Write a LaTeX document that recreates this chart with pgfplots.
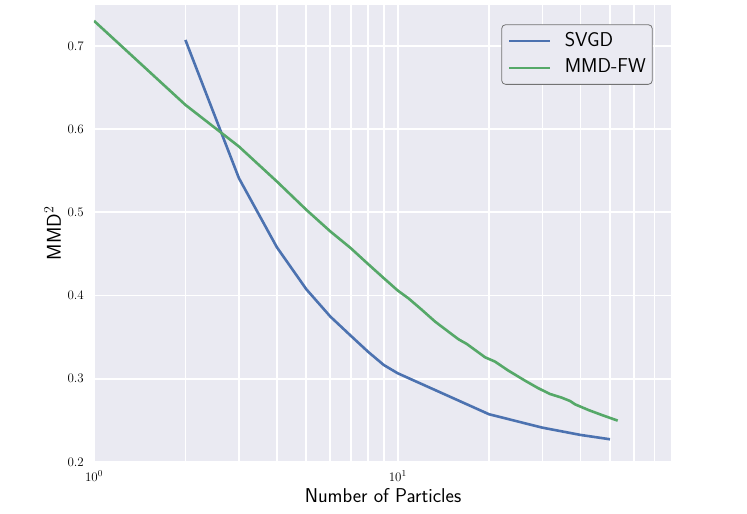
\documentclass[border=0pt]{standalone}
\usepackage{fontspec}
\usepackage{pgfplots}
\pgfplotsset{compat=1.18}
\definecolor{sbblue}{HTML}{4C72B0}
\definecolor{sbgreen}{HTML}{55A868}
\definecolor{sbbg}{HTML}{EAEAF2}
\pgfplotstableread{
x y
2 0.707
3 0.541
4 0.458
5 0.4076
6 0.3747
7 0.3518
8 0.3322
9 0.3165
10 0.3066
20 0.2573
30 0.2412
40 0.2325
50 0.2273
}\svgd
\pgfplotstableread{
x y
1 0.730
2 0.629
3 0.579
4 0.537
5 0.503
6 0.477
7 0.457
8 0.4376
9 0.4208
10 0.4060
10.84 0.3967
11.99 0.3830
13.27 0.3687
14.68 0.3566
15.84 0.3475
16.88 0.3418
17.97 0.3346
19.39 0.3258
20.91 0.3206
23.13 0.3098
26.26 0.2977
29.04 0.2886
31.73 0.2817
34.67 0.2773
36.93 0.2733
38.35 0.2693
42.43 0.2625
46.96 0.2565
53.0 0.2497
}\mmdfw
\begin{document}
\begin{tikzpicture}
\begin{axis}[
  at={(0pt,0pt)}, anchor=south west,
  scale only axis, width=578pt, height=457pt,
  xmode=log, xmin=1, xmax=80, ymin=0.2, ymax=0.749,
  xtick={1,10}, xticklabels={10\textsuperscript{0},10\textsuperscript{1}},
  minor xtick={2,3,4,5,6,7,8,9,20,30,40,50,60,70,80},
  ytick={0.2,0.3,0.4,0.5,0.6,0.7},
  yticklabel style={/pgf/number format/fixed, /pgf/number format/precision=1, /pgf/number format/fixed zerofill, /pgf/number format/assume math mode=true, inner sep=0pt, xshift=-10pt},
  xticklabel style={inner sep=0pt, yshift=-8.7pt},
  tick label style={font=\fontsize{13}{15}\selectfont},
  major tick length=0pt, minor tick length=0pt,
  axis line style={draw=none},
  axis background/.style={fill=sbbg},
  xmajorgrids=true, xminorgrids=true, ymajorgrids=true,
  major grid style={white, line width=1.7pt},
  minor grid style={white, line width=1.7pt},
  label style={font=\sffamily\fontsize{20}{24}\selectfont},
  xlabel={Number of Particles},
  ylabel={MMD\textsuperscript{\rmfamily 2}},
  x label style={at={([yshift=-40.7pt]axis description cs:0.5,0)}, anchor=base},
  y label style={at={([xshift=-33pt]axis description cs:0,0.5)}, anchor=base, rotate=0},
  legend style={at={(0.9666,0.9578)}, anchor=north east, draw=black!55, line width=0.8pt, fill=sbbg, rounded corners=4pt,
    font=\sffamily\fontsize{20}{24}\selectfont, inner xsep=6.5pt, inner ysep=7.5pt, row sep=8.7pt,
    nodes={inner sep=0pt, text height=14pt, text depth=4pt},
    /tikz/every odd column/.append style={column sep=13pt}},
  legend cell align=left,
  legend image code/.code={\draw[#1, line width=2.6pt, rounded corners=0pt] (0pt,0pt) -- (41pt,0pt);},
]
\addplot[sbblue, line width=2.6pt] table[x=x,y=y] {\svgd};
\addlegendentry{SVGD}
\addplot[sbgreen, line width=2.6pt] table[x=x,y=y] {\mmdfw};
\addlegendentry{MMD-FW}
\end{axis}
\pgfresetboundingbox
\path[use as bounding box] (-94pt,-52pt) rectangle (653pt,462pt);
\end{tikzpicture}
\end{document}
